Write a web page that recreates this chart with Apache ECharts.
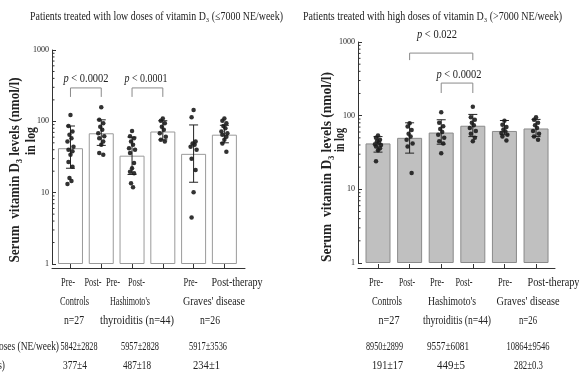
<!DOCTYPE html>
<html>
<head>
<meta charset="utf-8">
<script src="https://cdn.jsdelivr.net/npm/echarts@6.0.0/dist/echarts.min.js"></script>
<style>
  html, body { margin: 0; background: #fff; }
  #chart { width: 579px; height: 379px; }
</style>
</head>
<body>
<div id="chart"></div>
<script>
// ---- data ----
const phases = ["Pre-", "Post-", "Pre-", "Post-", "Pre-", "Post-therapy"];
const groups = ["Controls", "Hashimoto's", "Graves' disease"];
const groupN = ["n=27", "thyroiditis (n=44)", "n=26"];
const yTicks = [1, 10, 100, 1000];
const minorTicks = [2, 3, 4, 5, 6, 7, 8, 9, 20, 30, 40, 50, 60, 70, 80, 90, 200, 300, 400, 500, 600, 700, 800, 900];

const lowMeans = [42, 68, 33, 72, 35, 65];
const lowErr = [[22, 86], [46, 105], [18, 60], [55, 102], [14, 89], [50, 88]];
const lowDots = [
  [123, 86, 72, 65, 58, 52, 44, 40, 38, 34, 27, 23, 16, 14.6, 13.2],
  [158, 105, 94, 84, 76, 68, 62, 58, 52, 47, 36, 34],
  [73, 62, 58, 52, 47, 42, 40, 36, 26, 22, 19.7, 18.7, 13.5, 11.9],
  [110, 102, 94, 84, 76, 68, 61, 55, 52],
  [144, 114, 52, 49, 47, 44, 40, 30, 20.8, 10.1, 4.5],
  [110, 102, 94, 86, 80, 72, 68, 65, 61, 55, 49, 37.5]
];
const lowDoses = ["5842±2828", "5957±2828", "5917±3536"];
const lowDays = ["377±4", "487±18", "234±1"];
const lowP = ["0.0002", "0.0001"];
const lowBrackets = [[0, 1, 294, 220, 220], [2, 3, 294, 220, 220]];

const highMeans = [42, 50, 59, 73, 62, 67];
const highErr = [[32, 52], [31, 80], [41, 88], [52, 104], [55, 86], [52, 89]];
const highDots = [
  [54, 50, 47, 45, 43, 41, 40, 38, 36, 34, 24],
  [79, 71, 64, 57, 52, 47, 42, 38, 16.6],
  [111, 80, 72, 66, 60, 55, 50, 45, 42, 31],
  [132, 95, 88, 80, 74, 68, 62, 57, 50, 45],
  [85, 75, 70, 65, 61, 58, 55, 52, 46],
  [95, 88, 80, 74, 68, 62, 57, 52, 47]
];
const highDoses = ["8950±2899", "9557±6081", "10864±9546"];
const highDays = ["191±17", "449±5", "282±0.3"];
const highP = ["0.022", "0.0002"];
const highBrackets = [[1, 3, 707, 568, 568], [2, 3, 277, 203, 203]];

// ---- layout ----
const SERIF = '"Liberation Serif", "Times New Roman", serif';
const INK = "#222";
const jitter = [0, -2, 2, -1, 1, -3, 3, -2, 2];

const panels = [
  {
    grid: { left: 52, top: 50, width: 193, height: 214 },
    xRange: [-0.6, 5.67], axisGap: 4,
    barFill: "#ffffff", barBorder: "#9a9a9a",
    means: lowMeans, err: lowErr, dots: lowDots, brackets: lowBrackets,
    title: ["Patients treated with low doses of vitamin D₃ (≤7000 NE/week)", 156.5, 17, 253],
    yName: [15, 170, 185], inLog: [31, 141, 28],
    p: [[86, 79, 45], [146, 79, 43]], pVals: lowP,
    phaseX: [68, 93, 113, 136.5, 190.5, 237], phaseW: [14, 17, 14, 17, 14, 51],
    groupX: [74.5, 130, 214], groupW: [29, 40, 62],
    nX: [74, 137, 210], nW: [20, 74, 20],
    doses: lowDoses, doseX: [79, 140, 208], doseW: [37, 38, 38],
    days: lowDays, dayX: [75, 137, 206.5], dayW: [24, 28, 27]
  },
  {
    grid: { left: 358, top: 42, width: 197, height: 221 },
    xRange: [-0.633, 5.6], axisGap: 5,
    barFill: "#c0c0c0", barBorder: "#8a8a8a",
    means: highMeans, err: highErr, dots: highDots, brackets: highBrackets,
    title: ["Patients treated with high doses of vitamin D₃ (>7000 NE/week)", 432.5, 17, 259],
    yName: [327, 167, 190], inLog: [340, 140, 24],
    p: [[437, 35, 40], [459, 75, 45]], pVals: highP,
    phaseX: [376, 407, 437, 464, 505, 553.5], phaseW: [14, 16, 14, 17, 14, 52],
    groupX: [387, 452, 528], groupW: [30, 48, 63],
    nX: [389, 457, 528], nW: [21, 68, 18],
    doses: highDoses, doseX: [384.5, 448, 528], doseW: [37, 42, 43],
    days: highDays, dayX: [387.5, 451, 528.5], dayW: [31, 28, 29]
  }
];

// text squeezed horizontally to the width it has in the figure
const ctx = document.createElement("canvas").getContext("2d");
function fitText(text, cx, cy, w, o = {}) {
  const size = o.size || 13;
  const font = `${o.weight || "normal"} ${size}px ${SERIF}`;
  ctx.font = font;
  const sx = w / ctx.measureText(o.plain || text).width;
  const el = {
    type: "text", x: cx, y: cy, rotation: o.rotation || 0,
    scaleX: sx, scaleY: o.scaleY || 1, silent: true, z: 10,
    style: { text, font, fill: INK, align: o.align || "center", verticalAlign: "middle" }
  };
  if (o.rich) el.style.rich = o.rich;
  return el;
}
const pRich = {
  i: { font: `italic 13px ${SERIF}`, fill: INK },
  n: { font: `13px ${SERIF}`, fill: INK }
};

const graphics = [];
panels.forEach(pn => {
  graphics.push(fitText(pn.title[0], pn.title[1], pn.title[2], pn.title[3], { size: 12 }));
  graphics.push(fitText("Serum  vitamin D₃ levels (nmol/l)", pn.yName[0], pn.yName[1], pn.yName[2],
    { size: 14, weight: "bold", rotation: Math.PI / 2 }));
  graphics.push(fitText("in log", pn.inLog[0], pn.inLog[1], pn.inLog[2],
    { size: 14, weight: "bold", rotation: Math.PI / 2 }));
  pn.pVals.forEach((v, k) => {
    const [x, y, w] = pn.p[k];
    graphics.push(fitText(`{i|p}{n| < ${v}}`, x, y, w, { plain: `p < ${v}`, rich: pRich }));
  });
  phases.forEach((t, k) => graphics.push(fitText(t, pn.phaseX[k], 283, pn.phaseW[k])));
  groups.forEach((t, k) => graphics.push(fitText(t, pn.groupX[k], 302, pn.groupW[k])));
  groupN.forEach((t, k) => graphics.push(fitText(t, pn.nX[k], 321, pn.nW[k])));
  pn.doses.forEach((t, k) => graphics.push(fitText(t, pn.doseX[k], 347, pn.doseW[k])));
  pn.days.forEach((t, k) => graphics.push(fitText(t, pn.dayX[k], 366, pn.dayW[k])));
});
// row captions, mostly cut off by the left edge
graphics.push(fitText("Vitamin D₃ doses (NE/week)", 59, 347, 110, { align: "right" }));
graphics.push(fitText("Duration of therapy (days)", 5, 366, 100, { align: "right" }));

const series = [];
panels.forEach((pn, pi) => {
  const ax = { xAxisIndex: pi, yAxisIndex: pi };
  series.push({
    type: "bar", ...ax, barWidth: 25, z: 2,
    data: pn.means.map((v, i) => [i, v]),
    itemStyle: { color: pn.barFill, borderColor: pn.barBorder, borderWidth: 1 },
    silent: true
  });
  series.push({
    type: "custom", ...ax, z: 4, silent: true,
    data: pn.err.map((e, i) => [i, e[0], e[1]]),
    renderItem(params, api) {
      const lo = api.coord([api.value(0), api.value(1)]);
      const hi = api.coord([api.value(0), api.value(2)]);
      const hw = 4.5, st = { stroke: INK, lineWidth: 1 };
      return {
        type: "group", children: [
          { type: "line", shape: { x1: lo[0], y1: lo[1], x2: hi[0], y2: hi[1] }, style: st },
          { type: "line", shape: { x1: hi[0] - hw, y1: hi[1], x2: hi[0] + hw, y2: hi[1] }, style: st },
          { type: "line", shape: { x1: lo[0] - hw, y1: lo[1], x2: lo[0] + hw, y2: lo[1] }, style: st }
        ]
      };
    }
  });
  const dotData = [];
  pn.dots.forEach((arr, i) => arr.forEach((v, k) => {
    dotData.push({ value: [i, v], symbolOffset: [jitter[k % jitter.length], 0] });
  }));
  series.push({
    type: "scatter", ...ax, z: 5, silent: true, symbolSize: 4.5,
    itemStyle: { color: "#1c1c1c", opacity: 0.9 },
    data: dotData
  });
  series.push({
    type: "custom", ...ax, z: 3, silent: true,
    data: pn.brackets,
    renderItem(params, api) {
      const a = api.coord([api.value(0), api.value(2)]);
      const b = api.coord([api.value(1), api.value(2)]);
      const a2 = api.coord([api.value(0), api.value(3)]);
      const b2 = api.coord([api.value(1), api.value(4)]);
      return {
        type: "polyline",
        shape: { points: [a2, a, b, b2] },
        style: { stroke: "#8a8a8a", lineWidth: 1, fill: null }
      };
    }
  });
  series.push({
    type: "custom", ...ax, z: 3, silent: true,
    data: minorTicks.map(v => [0, v]),
    renderItem(params, api) {
      const y = api.coord([0, api.value(1)])[1];
      const x = params.coordSys.x;
      return {
        type: "line", shape: { x1: x, y1: y, x2: x + 2.5, y2: y },
        style: { stroke: "#333", lineWidth: 1 }
      };
    }
  });
});

const option = {
  backgroundColor: "#fff",
  animation: false,
  grid: panels.map(pn => ({ ...pn.grid, containLabel: false })),
  xAxis: panels.map((pn, pi) => ({
    type: "value", gridIndex: pi, min: pn.xRange[0], max: pn.xRange[1],
    offset: pn.axisGap,
    axisLine: { show: true, onZero: false, lineStyle: { color: "#333", width: 1 } },
    axisTick: { show: true, inside: true, length: 4, customValues: [0, 1, 2, 3, 4, 5], lineStyle: { color: "#333" } },
    axisLabel: { show: false },
    splitLine: { show: false }
  })),
  yAxis: panels.map((pn, pi) => ({
    type: "log", logBase: 10, gridIndex: pi, min: yTicks[0], max: yTicks[yTicks.length - 1],
    axisLine: { show: true, onZero: false, lineStyle: { color: "#333", width: 1 } },
    axisTick: { show: true, inside: true, length: 4, lineStyle: { color: "#333" } },
    axisLabel: { fontSize: 8, fontFamily: SERIF, color: INK, margin: 3, formatter: v => String(v) },
    splitLine: { show: false }
  })),
  series,
  graphic: graphics
};

const chart = echarts.init(document.getElementById("chart"));
chart.setOption(option);
</script>
</body>
</html>
